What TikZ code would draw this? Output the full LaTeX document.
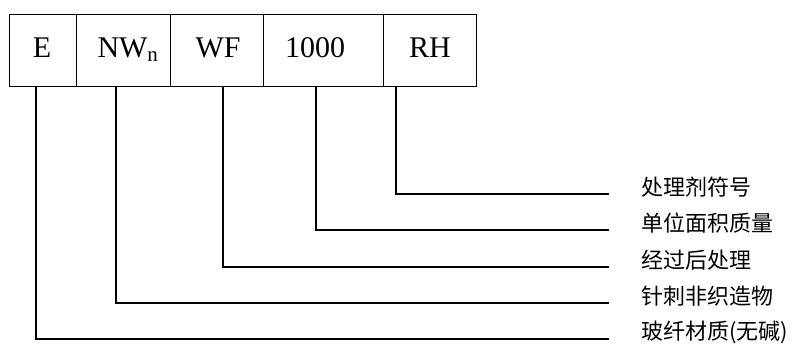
\documentclass[tikz,border=0pt]{standalone}
\usepackage{fontspec}
\setmainfont{Liberation Serif}
\newfontfamily\cjk{Noto Sans CJK SC}
\begin{document}
\begin{tikzpicture}[x=1pt,y=-1pt,
  cell/.style={draw,line width=1.3pt,minimum height=72pt,inner sep=0pt,anchor=north west},
  lbl/.style={font=\fontsize{30}{32}\selectfont,anchor=base,inner sep=0pt},
  desc/.style={font=\cjk\fontsize{22}{24}\selectfont,anchor=west,inner sep=0pt},
  conn/.style={line width=1.3pt}]
\useasboundingbox (0,0) rectangle (805,352);
% boxes
\node[cell,minimum width=67pt] (bE) at (9,14) {};
\node[cell,minimum width=94pt] (bNW) at (76,14) {};
\node[cell,minimum width=93pt] (bWF) at (170,14) {};
\node[cell,minimum width=120pt] (bK) at (263,14) {};
\node[cell,minimum width=93pt] (bRH) at (383,14) {};
% labels
\node[lbl] (tE) at (42,58) {E};
\node[lbl] (tNW) at (128,58) {NW\textsubscript{n}};
\node[lbl] (tWF) at (218,58) {WF};
\node[lbl] (tK) at (315,58) {1000};
\node[lbl] (tRH) at (430,58) {RH};
% descriptions
\node[desc] (d1) at (641,187) {处理剂符号};
\node[desc] (d2) at (641,223) {单位面积质量};
\node[desc] (d3) at (641,260) {经过后处理};
\node[desc] (d4) at (641,296) {针刺非织造物};
\node[desc] (d5) at (641,332) {玻纤材质(无碱)};
% connector ends
\coordinate (s1) at (396,86); \coordinate (e1) at (609,194);
\coordinate (s2) at (316,86); \coordinate (e2) at (609,230);
\coordinate (s3) at (223,86); \coordinate (e3) at (609,267);
\coordinate (s4) at (116,86); \coordinate (e4) at (609,303);
\coordinate (s5) at (36,86);  \coordinate (e5) at (609,339);
\draw[conn] (s1) |- (e1);
\draw[conn] (s2) |- (e2);
\draw[conn] (s3) |- (e3);
\draw[conn] (s4) |- (e4);
\draw[conn] (s5) |- (e5);
\end{tikzpicture}
\end{document}
